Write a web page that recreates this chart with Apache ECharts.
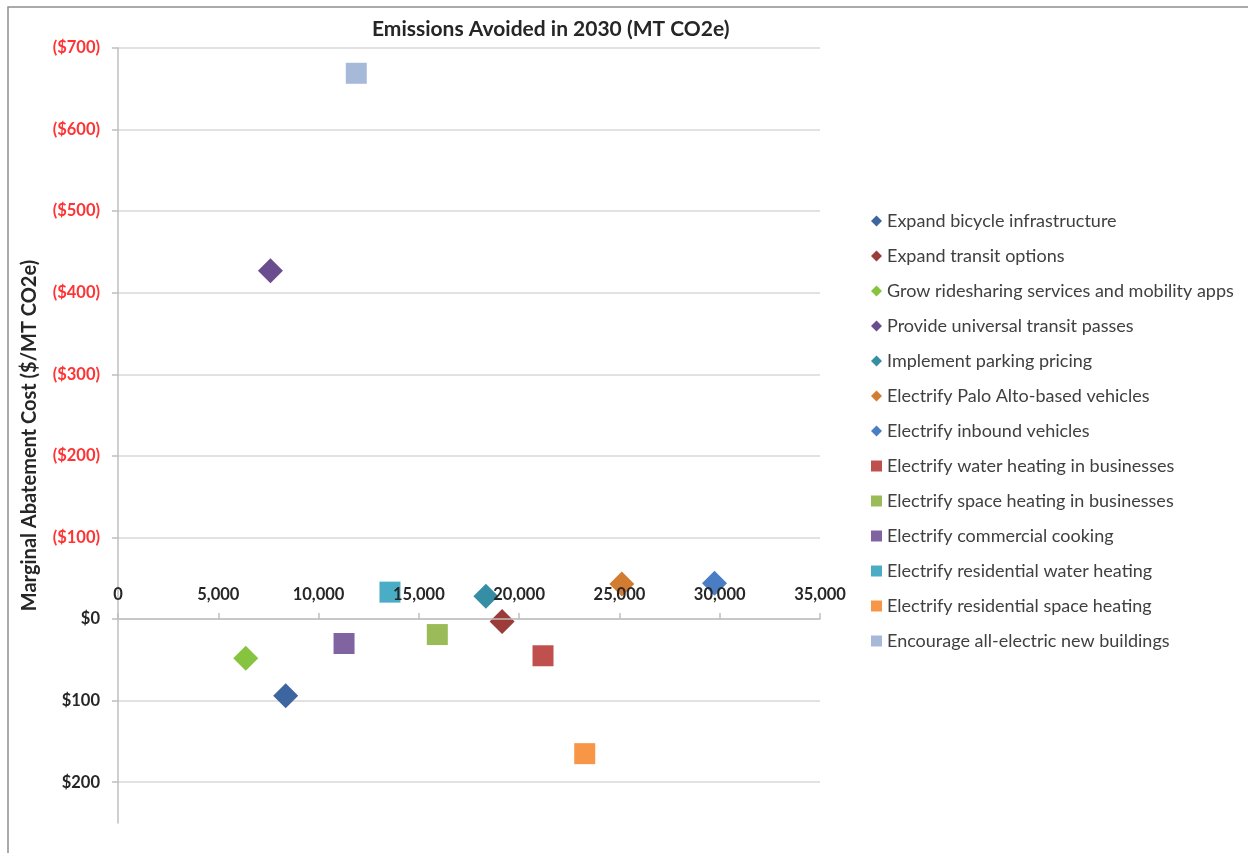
<!DOCTYPE html>
<html>
<head>
<meta charset="utf-8">
<script src="https://cdn.jsdelivr.net/npm/echarts@6/dist/echarts.min.js"></script>
<style>
  html, body { margin: 0; padding: 0; background: #ffffff; }
  #chart { width: 1248px; height: 853px; }
</style>
</head>
<body>
<div id="chart"></div>
<script>
// Climate measures and their 2030 outcomes
const measures = [
  'Expand bicycle infrastructure',
  'Expand transit options',
  'Grow ridesharing services and mobility apps',
  'Provide universal transit passes',
  'Implement parking pricing',
  'Electrify Palo Alto-based vehicles',
  'Electrify inbound vehicles',
  'Electrify water heating in businesses',
  'Electrify space heating in businesses',
  'Electrify commercial cooking',
  'Electrify residential water heating',
  'Electrify residential space heating',
  'Encourage all-electric new buildings'
];
// Emissions avoided in 2030 (MT CO2e)
const emissionsAvoided = [8360, 19150, 6370, 7600, 18340, 25120, 29740, 21190, 15920, 11270, 13560, 23270, 11880];
// Marginal abatement cost ($/MT CO2e); negative values are savings
const abatementCost = [94, 3, 48, -427, -28, -43, -44, 45, 19, 30, -33, 165, -669];

// Axis ticks
const xTicks = [0, 5000, 10000, 15000, 20000, 25000, 30000, 35000];
const yTicks = [-700, -600, -500, -400, -300, -200, -100, 0, 100, 200];

// Marker styling: transport measures are diamonds, building measures squares
const markerShapes = ['diamond', 'diamond', 'diamond', 'diamond', 'diamond', 'diamond', 'diamond',
  'rect', 'rect', 'rect', 'rect', 'rect', 'rect'];
const markerColors = ['#3d65a0', '#9c3c39', '#86c440', '#6a4d8f', '#368ea4', '#d27c32', '#4a7ec4',
  '#c0504d', '#9bbb59', '#8064a2', '#4bacc6', '#f79646', '#a7b9d9'];

const FONT = 'Lato, "Open Sans", sans-serif';

const series = measures.map((name, i) => ({
  name: name,
  type: 'scatter',
  symbol: markerShapes[i],
  symbolSize: markerShapes[i] === 'diamond' ? 25 : 21,
  itemStyle: { color: markerColors[i], opacity: 1 },
  emphasis: { disabled: true },
  z: 3,
  data: [[emissionsAvoided[i], abatementCost[i]]]
}));

const fmtThousands = v => String(v).replace(/\B(?=(\d{3})+(?!\d))/g, ',');

const chart = echarts.init(document.getElementById('chart'), null, { renderer: 'canvas' });
chart.setOption({
  animation: false,
  backgroundColor: '#ffffff',
  textStyle: { fontFamily: FONT },
  title: {
    text: 'Emissions Avoided in 2030 (MT CO2e)',
    left: 367,
    top: 14,
    textStyle: { fontFamily: FONT, fontSize: 21, fontWeight: 'bold', color: '#262626' }
  },
  graphic: [{
    type: 'rect',
    silent: true,
    shape: { x: 8, y: 7, width: 1400, height: 1000 },
    style: { fill: 'none', stroke: '#8f8f8f', lineWidth: 1.5 }
  }],
  grid: { left: 118, right: 428, top: 48, bottom: 30, containLabel: false },
  legend: {
    orient: 'vertical',
    left: 866,
    top: 207,
    itemWidth: 11,
    itemHeight: 11,
    itemGap: 17,
    selectedMode: false,
    textStyle: { fontFamily: FONT, fontSize: 18, color: '#404040', lineHeight: 18 },
    data: measures
  },
  xAxis: {
    type: 'value',
    position: 'top',
    min: 0,
    max: 35000,
    interval: 5000,
    z: 10,
    axisLine: { show: true, onZero: false, lineStyle: { color: '#bfbfbf', width: 1.5 } },
    axisTick: { show: true, length: 6, lineStyle: { color: '#bfbfbf', width: 1.5 } },
    axisLabel: {
      margin: 16,
      fontFamily: FONT,
      fontSize: 16.5,
      fontWeight: 'bold',
      color: '#262626',
      formatter: v => fmtThousands(v)
    },
    splitLine: { show: false }
  },
  yAxis: {
    type: 'value',
    inverse: true,
    min: -700,
    max: 250,
    interval: 100,
    name: 'Marginal Abatement Cost ($/MT CO2e)',
    nameLocation: 'middle',
    nameGap: 78,
    nameTextStyle: { fontFamily: FONT, fontSize: 20, fontWeight: 'bold', color: '#262626' },
    axisLine: { show: true, lineStyle: { color: '#bfbfbf', width: 1.5 } },
    axisTick: { show: true, length: 6, customValues: yTicks, lineStyle: { color: '#bfbfbf', width: 1.5 } },
    axisLabel: {
      margin: 18,
      fontFamily: FONT,
      fontSize: 16.5,
      fontWeight: 'bold',
      customValues: yTicks,
      color: v => (v < 0 ? '#ff3333' : '#262626'),
      formatter: v => (v < 0 ? '($' + (-v) + ')' : '$' + v)
    },
    splitLine: { show: true, lineStyle: { color: '#d9d9d9', width: 1.5 } }
  },
  series: series
});

// Put the horizontal axis on the $0 line, with its labels above it
const zeroY = chart.convertToPixel({ yAxisIndex: 0 }, 0);
const topY = chart.convertToPixel({ yAxisIndex: 0 }, -700);
chart.setOption({ xAxis: { offset: -(zeroY - topY) } });
</script>
</body>
</html>
